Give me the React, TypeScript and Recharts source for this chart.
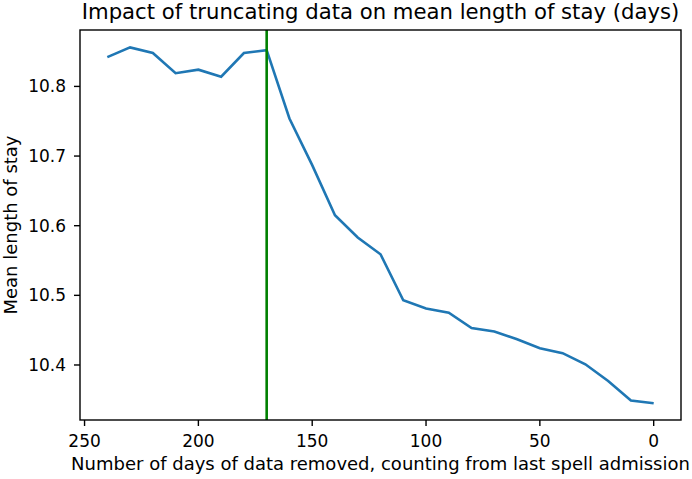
import { LineChart, Line, XAxis, YAxis, ReferenceLine, Label } from 'recharts';

const days = [240, 230, 220, 210, 200, 190, 180, 170, 160, 150, 140, 130, 120, 110, 100, 90, 80, 70, 60, 50, 40, 30, 20, 10, 0];
const meanStay = [
  10.842, 10.856, 10.848, 10.819, 10.824, 10.814, 10.848, 10.852, 10.754, 10.687,
  10.615, 10.583, 10.559, 10.493, 10.481, 10.475, 10.453, 10.448, 10.437, 10.424,
  10.417, 10.401, 10.377, 10.349, 10.345,
];
const xTicks = [0, 50, 100, 150, 200, 250];
const yTicks = [10.4, 10.5, 10.6, 10.7, 10.8];
const cutoffDay = 170;

const FONT = 'DejaVu Sans';
const W = 692;
const H = 479;
// plot box (matches the matplotlib axes)
const PL = 80;
const PR = 681;
const PT = 30;
const PB = 420;

export default function App() {
  const data = days.map((d, i) => ({ days: d, stay: meanStay[i] }));
  const tickStyle = { fill: '#000', fontSize: 17, fontFamily: FONT };
  const labelStyle = { fill: '#000', fontSize: 18, fontFamily: FONT };

  return (
    <div style={{ position: 'absolute', left: 0, top: 0, width: W, height: H, background: '#fff' }}>
      <LineChart
        width={W}
        height={H}
        data={data}
        margin={{ top: PT, right: W - PR, bottom: H - PB - 30, left: PL - 70 }}
      >
        <XAxis
          type="number"
          dataKey="days"
          domain={[-12, 252]}
          reversed
          allowDataOverflow
          ticks={xTicks}
          height={30}
          axisLine={false}
          tickLine={{ stroke: '#000', strokeWidth: 1.4 }}
          tickSize={6}
          tickMargin={9}
          tick={tickStyle}
        >
          <Label
            value="Number of days of data removed, counting from last spell admission"
            position="center"
            dy={28.5}
            style={labelStyle}
          />
        </XAxis>
        <YAxis
          type="number"
          domain={[10.321, 10.881]}
          allowDataOverflow
          ticks={yTicks}
          tickFormatter={(v: number) => v.toFixed(1)}
          width={70}
          axisLine={false}
          tickLine={{ stroke: '#000', strokeWidth: 1.4 }}
          tickSize={6}
          tickMargin={8}
          tick={tickStyle}
        >
          <Label
            value="Mean length of stay"
            position="center"
            angle={-90}
            dx={-34}
            style={labelStyle}
          />
        </YAxis>
        <Line
          type="linear"
          dataKey="stay"
          stroke="#1f77b4"
          strokeWidth={2.6}
          dot={false}
          isAnimationActive={false}
        />
        <ReferenceLine x={cutoffDay} stroke="#008000" strokeWidth={2.6} />
      </LineChart>
      <svg
        width={W}
        height={H}
        style={{ position: 'absolute', left: 0, top: 0, pointerEvents: 'none' }}
      >
        <rect x={PL} y={PT} width={PR - PL} height={PB - PT} fill="none" stroke="#000" strokeWidth={1.4} />
        <text
          x={(PL + PR) / 2}
          y={18.5}
          textAnchor="middle"
          fontSize={21.2}
          fontFamily={FONT}
          fill="#000"
        >
          Impact of truncating data on mean length of stay (days)
        </text>
      </svg>
    </div>
  );
}
